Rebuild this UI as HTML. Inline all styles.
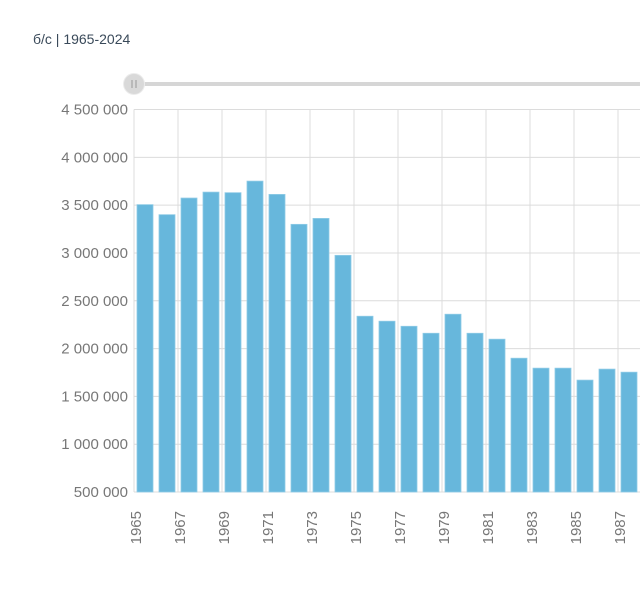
<!DOCTYPE html>
<html><head><meta charset="utf-8"><style>
html,body{margin:0;padding:0;background:#fff;width:640px;height:601px;overflow:hidden}
text{font-family:"Liberation Sans","DejaVu Sans",sans-serif}
</style></head><body>
<svg id="chart" width="640" height="601" xmlns="http://www.w3.org/2000/svg">
<text x="33" y="44" font-size="14" fill="#3a4a5a">б/с | 1965-2024</text>
<line x1="140" y1="84" x2="640" y2="84" stroke="#d6d6d6" stroke-width="4"/>
<g>
<circle cx="134" cy="84" r="10.5" fill="#d9d9d9" stroke="#ececec" stroke-width="1"/>
<line x1="132" y1="80" x2="132" y2="88" stroke="#999" stroke-width="1"/>
<line x1="136" y1="80" x2="136" y2="88" stroke="#999" stroke-width="1"/>
</g>
<g id="grid"></g><g id="bars"></g><g id="yaxis"></g><g id="xaxis"></g>
</svg>
<script>
const years = ["1965","1966","1967","1968","1969","1970","1971","1972","1973","1974","1975","1976","1977","1978","1979","1980","1981","1982","1983","1984","1985","1986","1987"];
const births = [3505000,3400000,3574000,3636000,3630000,3751000,3612000,3299000,3361000,2975000,2338000,2286000,2233000,2160000,2359000,2160000,2098000,1899000,1795000,1795000,1670000,1785000,1753000];
const yTicks = [500000,1000000,1500000,2000000,2500000,3000000,3500000,4000000,4500000];
const yTickLabels = ["500 000","1 000 000","1 500 000","2 000 000","2 500 000","3 000 000","3 500 000","4 000 000","4 500 000"];
const NS="http://www.w3.org/2000/svg";
const L=134,R=640,T=109.5,B=492,band=22,yMin=500000,yMax=4500000;
const y=v=>B-(v-yMin)/(yMax-yMin)*(B-T);
const x=i=>L+i*band;
function mk(tag,attrs,parent){const e=document.createElementNS(NS,tag);for(const k in attrs)e.setAttribute(k,attrs[k]);parent.appendChild(e);return e;}
const grid=document.getElementById('grid'),bars=document.getElementById('bars'),ya=document.getElementById('yaxis'),xa=document.getElementById('xaxis');
yTicks.forEach((t,i)=>{
  const g=mk('line',{x1:L,x2:R,y1:y(t),y2:y(t),stroke:'#dcdcdc','stroke-width':1},grid);
  
  
  const lb=mk('text',{x:128,y:y(t)+5,'text-anchor':'end','font-size':15,fill:'#777'},ya);
  lb.textContent=yTickLabels[i];
  
  
});
for(let i=0;i<=years.length;i+=2){
  const g=mk('line',{x1:x(i),x2:x(i),y1:T,y2:B,stroke:'#dcdcdc','stroke-width':1},grid);
  
  
}
years.forEach((yr,i)=>{
  const r=mk('rect',{x:x(i)+3,y:y(births[i]),width:16,height:B-y(births[i]),fill:'#67b7dc',stroke:'#8fcbe6','stroke-width':0.8},bars);
  
  
  if(i%2===0){
    const bx=x(i)+7;
    const t=mk('text',{x:bx,y:511,'text-anchor':'end','font-size':15,fill:'#777',transform:`rotate(-90 ${bx} 511)`},xa);
    t.textContent=yr;
    
    
  }
});
</script>
</body></html>
